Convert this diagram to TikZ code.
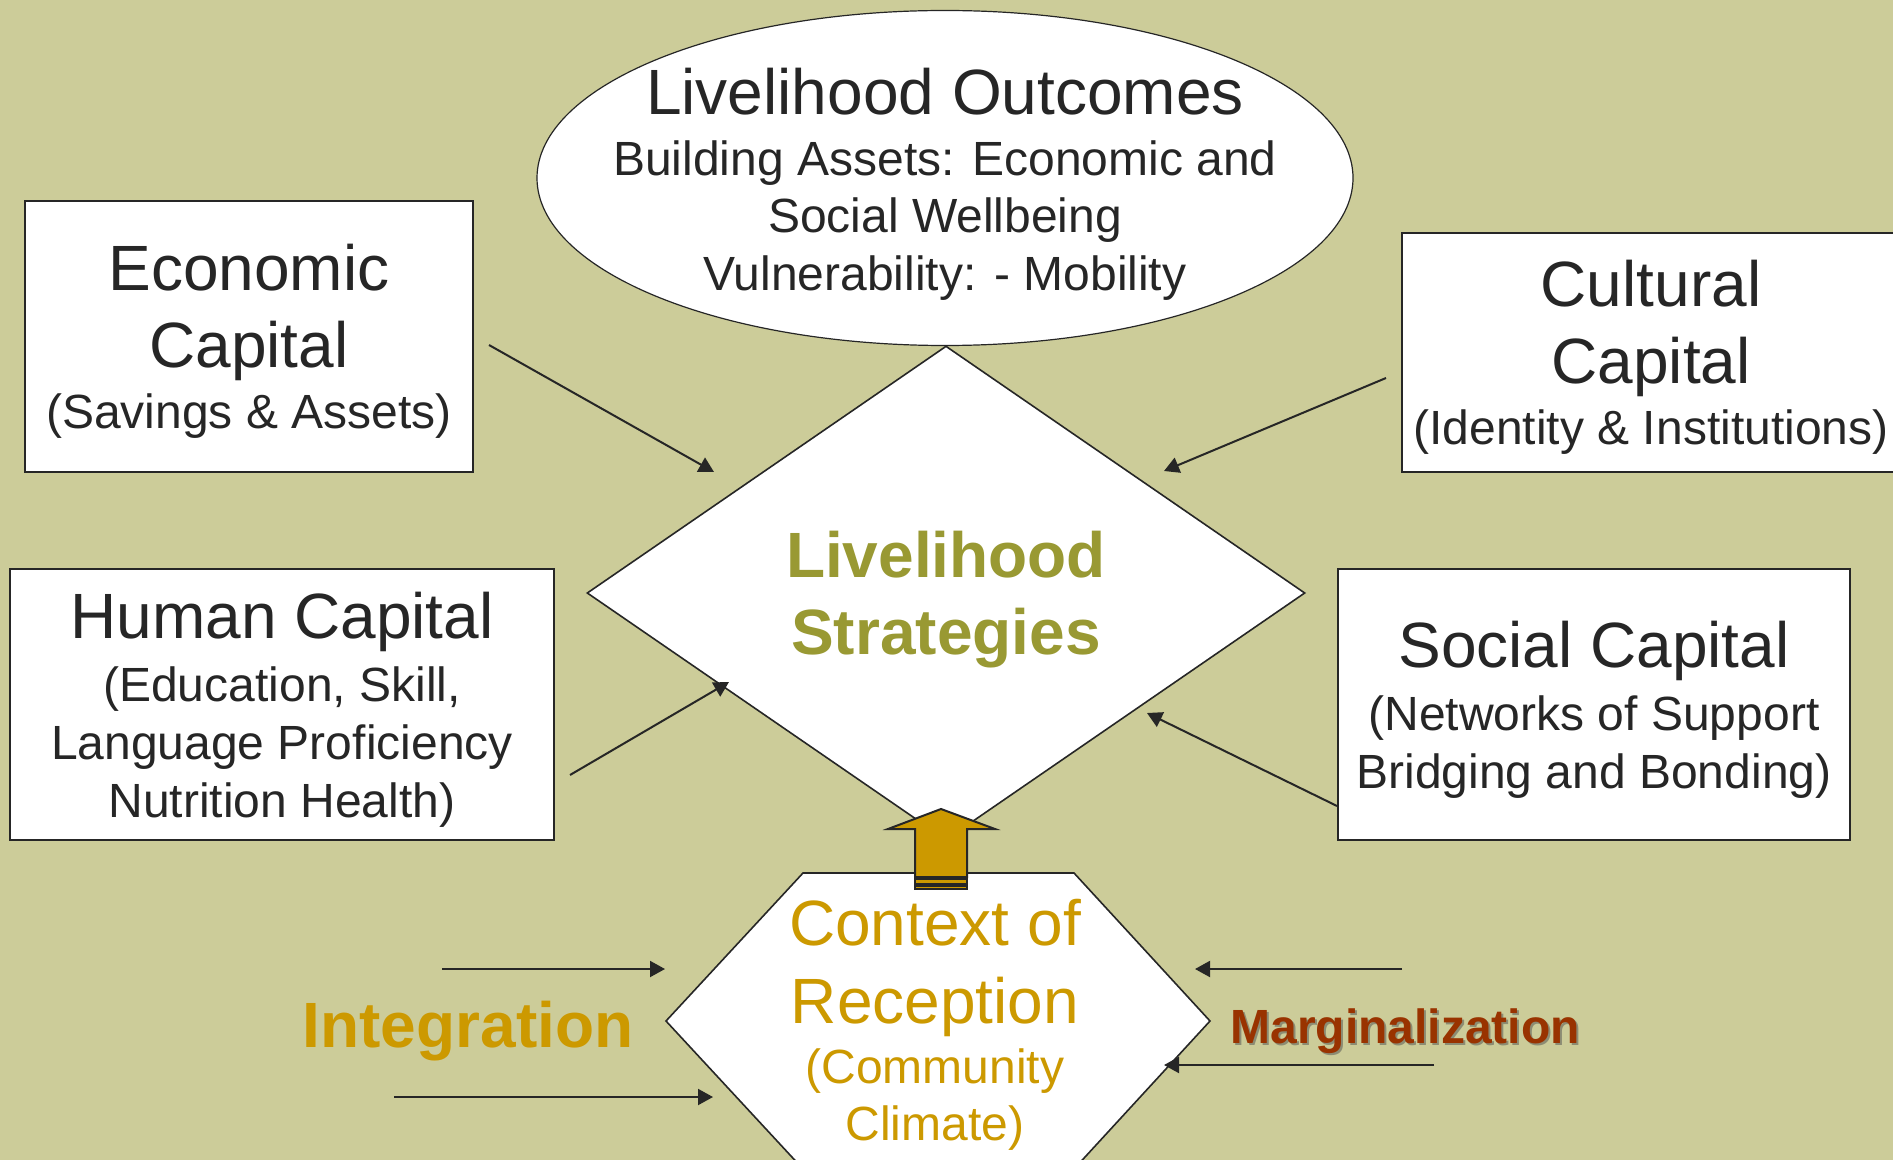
\documentclass[tikz,border=0pt]{standalone}
\usepackage{fontspec}
\setmainfont{Liberation Sans}
\usetikzlibrary{arrows.meta,shapes.geometric}

\definecolor{bgolive}{RGB}{204,204,153}
\definecolor{inkdark}{RGB}{38,38,38}
\definecolor{stratolive}{RGB}{153,153,51}
\definecolor{gold}{RGB}{204,153,0}
\definecolor{rust}{RGB}{153,51,0}
\definecolor{shadowgray}{RGB}{140,140,115}

\newcommand\bigtxt{\fontsize{32}{38.4}\selectfont}
\newcommand\smalltxt{\fontsize{24}{28.8}\selectfont}

\tikzset{
  capbox/.style={draw=inkdark, line width=1pt, fill=white, text=inkdark, align=center,
    inner sep=0pt, text depth=-3.6pt},
  plaintext/.style={align=center, inner sep=0pt, text depth=0pt},
  feed/.style={draw=inkdark, line width=1pt, -{Triangle[length=7.5pt,width=8pt]}},
}

\begin{document}
\begin{tikzpicture}[x=0.5pt,y=-0.5pt]
    \useasboundingbox (0,0) rectangle (1893,1160);
    \fill[bgolive] (0,0) rectangle (1893,1160);

    % outcomes on top
    \node[ellipse, draw=inkdark, line width=0.6pt, fill=white, minimum width=408pt,
      minimum height=167.5pt, inner sep=0pt] (outcomes) at (945,178) {};
    \node[plaintext, text=inkdark, font=\smalltxt] (outtext) at (945,179)
      {\bigtxt Livelihood Outcomes\\[1.7pt]
       \smalltxt Building Assets: Economic and\\
       \smalltxt Social Wellbeing\\
       \smalltxt Vulnerability: - Mobility};

    % the four capitals
    \node[capbox, font=\bigtxt, minimum width=224pt, minimum height=135.5pt] (econ) at (249,336.5)
      {\bigtxt Economic\\ \bigtxt Capital\\[-7.9pt] \smalltxt (Savings \& Assets)};
    \node[capbox, font=\bigtxt, minimum width=249pt, minimum height=119.5pt] (cultural) at (1651,352.5)
      {\bigtxt Cultural\\ \bigtxt Capital\\[-7.9pt] \smalltxt (Identity \& Institutions)};
    \node[capbox, font=\smalltxt, minimum width=272pt, minimum height=135.5pt] (human) at (282,704.5)
      {\bigtxt Human Capital\\[3pt] \smalltxt (Education, Skill,\\
       \smalltxt Language Proficiency\\ \smalltxt Nutrition Health)};
    \node[capbox, font=\smalltxt, minimum width=256pt, minimum height=135.5pt] (social) at (1594,704.5)
      {\bigtxt Social Capital\\[3pt] \smalltxt (Networks of Support\\
       \smalltxt Bridging and Bonding)};

    % strategies
    \node[diamond, draw=inkdark, line width=0.8pt, fill=white, text=stratolive, align=center,
      font=\bfseries\bigtxt, inner sep=0pt, text depth=-2.4pt, minimum width=359pt,
      minimum height=247pt] (strategies) at (946,593) {Livelihood\\ Strategies};

    % context of reception
    \draw[draw=inkdark, line width=0.8pt, fill=white] (666,1021) -- (803,873) -- (1074,873)
      -- (1210,1021) -- (1074,1169) -- (803,1169) -- cycle;
    \node[plaintext, text=gold, font=\smalltxt] (context) at (935,1020)
      {\bigtxt Context of\\[10.2pt] \bigtxt Reception\\[1.2pt]
       \smalltxt (Community\\ \smalltxt Climate)};

    \draw[inkdark, line width=1pt, fill=gold] (941,809) -- (995,829) -- (967,829) -- (967,877)
      -- (915,877) -- (915,829) -- (888,829) -- cycle;
    \draw[inkdark, line width=0.8pt, fill=gold] (915,879) rectangle (967,884);
    \draw[inkdark, line width=0.8pt, fill=gold] (915,886) rectangle (967,889);

    \node[plaintext, text=gold, font=\bfseries\bigtxt] (integration) at (468,1024) {Integration};
    \node[plaintext, text=shadowgray, font=\bfseries\smalltxt] (margshadow) at (1407,1028) {Marginalization};
    \node[plaintext, text=rust, font=\bfseries\smalltxt] (marginal) at (1405,1026) {Marginalization};

    % arrow ends
    \coordinate (econ-tail) at (489,345);
    \coordinate (econ-tip) at (714,472);
    \coordinate (cult-tail) at (1386,378);
    \coordinate (cult-tip) at (1164,471);
    \coordinate (human-tail) at (570,775);
    \coordinate (human-tip) at (729,682);
    \coordinate (social-tail) at (1337,806);
    \coordinate (social-tip) at (1147,713);
    \coordinate (integ-a) at (442,969);
    \coordinate (integ-b) at (665,969);
    \coordinate (integ-c) at (394,1097);
    \coordinate (integ-d) at (713,1097);
    \coordinate (marg-a) at (1402,969);
    \coordinate (marg-b) at (1195,969);
    \coordinate (marg-c) at (1434,1065);
    \coordinate (marg-d) at (1164,1065);

    \draw[feed] (econ-tail) -- (econ-tip);
    \draw[feed] (cult-tail) -- (cult-tip);
    \draw[feed] (human-tail) -- (human-tip);
    \draw[feed] (social-tail) -- (social-tip);
    \draw[feed] (integ-a) -- (integ-b);
    \draw[feed] (integ-c) -- (integ-d);
    \draw[feed] (marg-a) -- (marg-b);
    \draw[feed] (marg-c) -- (marg-d);
\end{tikzpicture}
\end{document}
